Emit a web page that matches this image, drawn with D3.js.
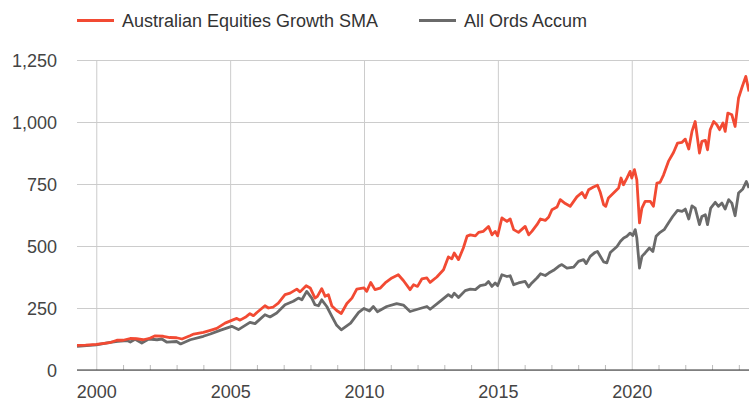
<!DOCTYPE html>
<html>
<head>
<meta charset="utf-8">
<script src="https://cdn.jsdelivr.net/npm/d3@7"></script>
<style>
    body { margin: 0; background: #fff; }
    text { font-family: "Liberation Sans", Arial, sans-serif; }
</style>
</head>
<body>
<div id="main"></div>
<script>
const seriesNames = ['Australian Equities Growth SMA', 'All Ords Accum']
const seriesColors = ['#f24a33', '#6a6a6a']

// [decimal year, index value]
const smaData = [
    [1999.28, 99], [1999.6, 100], [2000.0, 103], [2000.5, 110], [2000.77, 120], [2001.0, 120],
    [2001.27, 127], [2001.5, 126], [2001.75, 122], [2002.0, 128], [2002.2, 138], [2002.5, 136],
    [2002.75, 131], [2003.0, 130], [2003.2, 125], [2003.5, 138], [2003.64, 145], [2004.0, 152],
    [2004.26, 160], [2004.5, 168], [2004.81, 189], [2005.06, 200], [2005.25, 208], [2005.37, 201],
    [2005.6, 215], [2005.74, 227], [2005.87, 219], [2006.0, 232], [2006.3, 259], [2006.43, 250],
    [2006.61, 254], [2006.8, 270], [2007.05, 304], [2007.24, 310], [2007.49, 326], [2007.61, 315],
    [2007.84, 340], [2007.99, 331], [2008.17, 290], [2008.26, 297], [2008.42, 328], [2008.55, 297],
    [2008.67, 304], [2008.8, 258], [2008.98, 240], [2009.15, 228], [2009.36, 268], [2009.55, 290],
    [2009.73, 326], [2010.0, 331], [2010.1, 317], [2010.25, 353], [2010.41, 324], [2010.6, 330],
    [2010.79, 351], [2011.04, 371], [2011.28, 384], [2011.47, 361], [2011.72, 324], [2011.85, 344],
    [2012.0, 337], [2012.16, 367], [2012.35, 371], [2012.47, 353], [2012.72, 375], [2012.97, 404],
    [2013.15, 456], [2013.28, 448], [2013.37, 472], [2013.53, 445], [2013.71, 492], [2013.85, 540],
    [2013.97, 545], [2014.16, 541], [2014.28, 555], [2014.46, 559], [2014.65, 579], [2014.78, 545],
    [2014.9, 559], [2014.99, 541], [2015.15, 613], [2015.34, 599], [2015.46, 609], [2015.59, 566],
    [2015.77, 555], [2016.02, 579], [2016.15, 545], [2016.27, 559], [2016.46, 586], [2016.59, 609],
    [2016.77, 603], [2016.9, 617], [2017.02, 646], [2017.21, 657], [2017.33, 687], [2017.52, 671],
    [2017.7, 660], [2017.95, 698], [2018.14, 716], [2018.26, 694], [2018.39, 727], [2018.57, 738],
    [2018.72, 745], [2018.82, 718], [2018.95, 667], [2019.03, 660], [2019.13, 694], [2019.32, 714],
    [2019.51, 734], [2019.6, 774], [2019.69, 747], [2019.82, 774], [2019.94, 801], [2020.0, 774],
    [2020.1, 808], [2020.19, 767], [2020.29, 593], [2020.38, 653], [2020.5, 680], [2020.69, 680],
    [2020.81, 660], [2020.94, 754], [2021.06, 757], [2021.19, 787], [2021.37, 841], [2021.56, 877],
    [2021.71, 915], [2021.88, 918], [2022.0, 931], [2022.13, 891], [2022.25, 962], [2022.37, 1002],
    [2022.53, 875], [2022.62, 922], [2022.75, 926], [2022.83, 888], [2022.93, 969], [2023.06, 1002],
    [2023.18, 989], [2023.28, 969], [2023.41, 996], [2023.49, 962], [2023.59, 1036], [2023.74, 1029],
    [2023.86, 982], [2023.99, 1097], [2024.11, 1137], [2024.26, 1184], [2024.38, 1123]
]

const allOrdsData = [
    [1999.28, 95], [1999.64, 98], [2000.0, 101], [2000.52, 111], [2000.8, 115], [2001.15, 119],
    [2001.27, 113], [2001.45, 124], [2001.7, 109], [2001.96, 125], [2002.27, 122], [2002.45, 125],
    [2002.64, 112], [2003.0, 115], [2003.15, 105], [2003.51, 122], [2004.0, 136], [2004.26, 145],
    [2004.62, 160], [2005.06, 176], [2005.31, 163], [2005.74, 192], [2005.93, 187], [2006.3, 223],
    [2006.49, 214], [2006.74, 230], [2007.05, 263], [2007.36, 277], [2007.55, 290], [2007.68, 283],
    [2007.86, 317], [2008.05, 290], [2008.17, 263], [2008.3, 259], [2008.42, 283], [2008.61, 256],
    [2008.8, 216], [2008.98, 180], [2009.15, 162], [2009.5, 189], [2009.8, 232], [2010.0, 248],
    [2010.2, 238], [2010.35, 256], [2010.5, 235], [2010.75, 250], [2010.85, 256], [2011.22, 268],
    [2011.47, 262], [2011.72, 236], [2012.0, 245], [2012.35, 256], [2012.47, 245], [2012.84, 277],
    [2013.15, 304], [2013.28, 294], [2013.37, 310], [2013.53, 292], [2013.78, 320], [2013.97, 326],
    [2014.16, 324], [2014.34, 340], [2014.53, 344], [2014.65, 357], [2014.78, 337], [2014.9, 351],
    [2014.99, 340], [2015.15, 384], [2015.34, 377], [2015.46, 380], [2015.59, 344], [2015.77, 351],
    [2016.02, 357], [2016.15, 335], [2016.27, 351], [2016.46, 371], [2016.59, 388], [2016.77, 381],
    [2016.9, 391], [2017.08, 402], [2017.27, 418], [2017.39, 425], [2017.58, 411], [2017.83, 415],
    [2018.01, 438], [2018.2, 445], [2018.3, 429], [2018.45, 458], [2018.63, 474], [2018.72, 478],
    [2018.82, 460], [2018.95, 436], [2019.07, 432], [2019.2, 474], [2019.45, 498], [2019.58, 519],
    [2019.7, 532], [2019.82, 539], [2019.94, 552], [2020.04, 542], [2020.13, 566], [2020.19, 532],
    [2020.29, 411], [2020.38, 458], [2020.5, 472], [2020.66, 492], [2020.79, 478], [2020.91, 539],
    [2021.06, 555], [2021.21, 566], [2021.37, 593], [2021.53, 619], [2021.71, 644], [2021.88, 640],
    [2022.0, 649], [2022.13, 609], [2022.25, 662], [2022.37, 653], [2022.53, 586], [2022.62, 619],
    [2022.75, 626], [2022.83, 586], [2022.95, 653], [2023.12, 676], [2023.24, 660], [2023.37, 673],
    [2023.49, 649], [2023.62, 687], [2023.74, 673], [2023.86, 622], [2023.99, 714], [2024.15, 730],
    [2024.28, 760], [2024.38, 734]
]

const yTicks = [0, 250, 500, 750, 1000, 1250]
const xMajorTicks = [2000, 2005, 2010, 2015, 2020]
const xMinorTicks = [2001, 2002, 2003, 2004, 2006, 2007, 2008, 2009, 2011, 2012, 2013, 2014,
    2016, 2017, 2018, 2019, 2021, 2022, 2023, 2024]

const ctx = {
    w: 749,
    h: 400,
    left: 77,
    right: 0,
    top: 60,
    bottom: 30
}

function createViz() {
    let svgEl = d3.select('#main').append('svg')
        .attr('width', ctx.w)
        .attr('height', ctx.h)
    let innerW = ctx.w - ctx.left - ctx.right
    let innerH = ctx.h - ctx.top - ctx.bottom

    let xScale = d3.scaleLinear()
        .domain([smaData[0][0], smaData[smaData.length - 1][0]])
        .range([0, innerW])
    let yScale = d3.scaleLinear().domain([0, 1250]).range([innerH, 0])

    let g = svgEl.append('g').attr('transform', `translate(${ctx.left},${ctx.top})`)

    // horizontal grid + y labels
    let yAxis = g.append('g')
        .call(d3.axisLeft(yScale).tickValues(yTicks).tickSize(-innerW).tickPadding(20).tickFormat(d3.format(',')))
    yAxis.select('.domain').remove()
    yAxis.selectAll('line').attr('stroke', '#cccccc')
    yAxis.selectAll('text')
        .attr('fill', '#444')
        .attr('font-size', 18)
        .attr('dy', '0.34em')

    // vertical grid + x labels
    let xAxis = g.append('g')
        .attr('transform', `translate(0,${innerH})`)
        .call(d3.axisBottom(xScale).tickValues(xMajorTicks).tickSize(-innerH).tickPadding(15).tickFormat(d3.format('d')))
    xAxis.select('.domain').remove()
    xAxis.selectAll('line').attr('stroke', '#cccccc')
    xAxis.selectAll('text')
        .attr('fill', '#444')
        .attr('font-size', 18)

    // yearly minor ticks
    let minor = g.append('g')
        .attr('transform', `translate(0,${innerH})`)
        .call(d3.axisBottom(xScale).tickValues(xMinorTicks).tickSize(-5).tickFormat(''))
    minor.select('.domain').remove()
    minor.selectAll('line').attr('stroke', '#bbbbbb')

    // baseline
    g.append('line')
        .attr('x1', 0).attr('x2', innerW)
        .attr('y1', yScale(0)).attr('y2', yScale(0))
        .attr('stroke', '#333')
        .attr('stroke-width', 1.2)

    let line = d3.line()
        .x(d => xScale(d[0]))
        .y(d => yScale(d[1]))

    // grey first so red sits on top
    g.append('path')
        .datum(allOrdsData)
        .attr('fill', 'none')
        .attr('stroke', seriesColors[1])
        .attr('stroke-width', 2.8)
        .attr('stroke-linejoin', 'round')
        .attr('d', line)
    g.append('path')
        .datum(smaData)
        .attr('fill', 'none')
        .attr('stroke', seriesColors[0])
        .attr('stroke-width', 2.8)
        .attr('stroke-linejoin', 'round')
        .attr('d', line)

    // legend
    let legendX = [77, 419]
    let legend = svgEl.append('g')
    seriesNames.forEach((name, i) => {
        legend.append('line')
            .attr('x1', legendX[i]).attr('x2', legendX[i] + 37)
            .attr('y1', 20.5).attr('y2', 20.5)
            .attr('stroke', seriesColors[i])
            .attr('stroke-width', 3)
        legend.append('text')
            .attr('x', legendX[i] + 45)
            .attr('y', 27)
            .attr('font-size', 18)
            .attr('fill', '#333')
            .text(name)
    })
}

createViz()
</script>
</body>
</html>
